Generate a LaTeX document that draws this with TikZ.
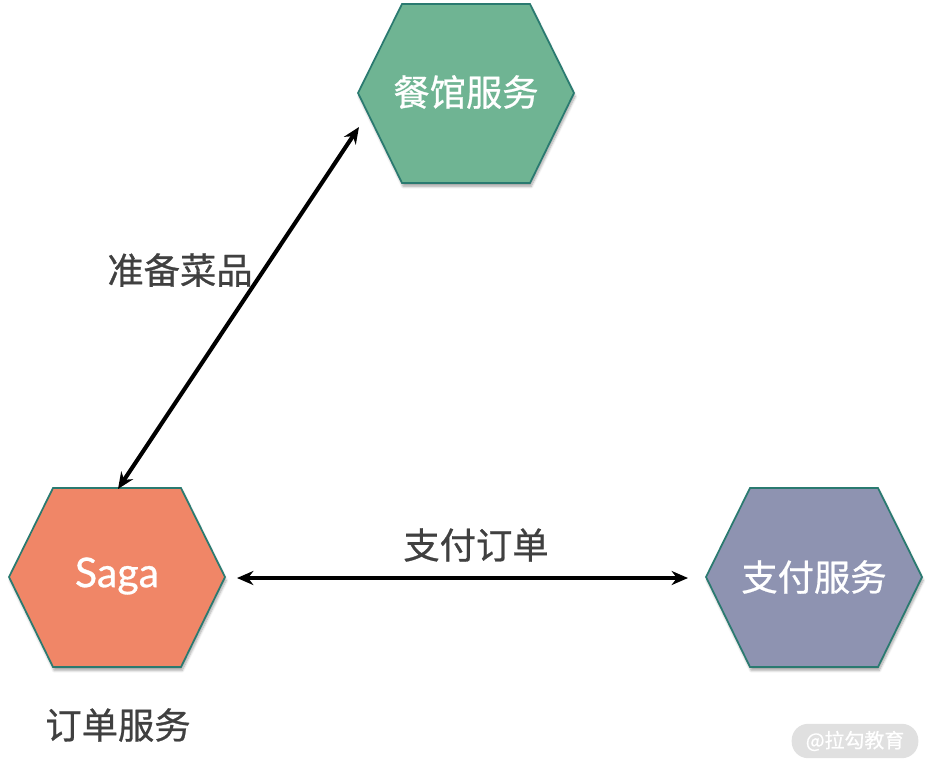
\documentclass[tikz,border=0pt]{standalone}
\usepackage{fontspec}
\setmainfont{Lato}[FakeBold=0.7]
\newfontfamily\cjk{Noto Sans CJK SC}[FakeBold=0.7]
\usetikzlibrary{arrows.meta,shadows.blur}

\definecolor{hexline}{HTML}{2A7A70}
\definecolor{restgreen}{HTML}{6FB493}
\definecolor{sagared}{HTML}{F08667}
\definecolor{payslate}{HTML}{8E93B1}
\definecolor{textgray}{HTML}{404040}
\definecolor{markgray}{HTML}{E0E0E0}

\newcommand{\hexat}[3]{%
  \draw[hex,fill=#3] (#1-108,#2) -- (#1-64,#2-89) -- (#1+64,#2-89) -- (#1+108,#2)
    -- (#1+64,#2+90) -- (#1-64,#2+90) -- cycle;}

\begin{document}
\begin{tikzpicture}[x=0.03cm, y=-0.03cm,
  hex/.style={draw=hexline, line width=1.5pt,
    blur shadow={shadow xshift=1pt, shadow yshift=-3pt, shadow blur steps=6, shadow opacity=35}},
  hextext/.style={text=white, font=\cjk\fontsize{31}{31}\selectfont},
  lbl/.style={text=textgray, font=\cjk\fontsize{31}{31}\selectfont},
  conn/.style={{Stealth[length=14pt,width=12pt]}-{Stealth[length=14pt,width=12pt]}, line width=3.5pt}]
\useasboundingbox (0,0) rectangle (932,772);

\hexat{466}{93}{restgreen}
\hexat{117}{577}{sagared}
\hexat{814}{577}{payslate}

\node[hextext] (rest) at (466,92) {餐馆服务};
\node[text=white, font=\fontsize{35}{35}\selectfont] (saga) at (117,576) {Saga};
\node[hextext] (pay) at (814,577) {支付服务};

\node[lbl] (prep) at (180,270) {准备菜品};
\node[lbl] (payorder) at (476,545) {支付订单};
\node[lbl] (order) at (118,725) {订单服务};

\coordinate (sagaN) at (118,489);
\coordinate (restSW) at (359,127);
\coordinate (sagaE) at (237,578);
\coordinate (payW) at (688,578);

\draw[conn] (sagaN) -- (restSW);
\draw[conn] (sagaE) -- (payW);

\node[fill=markgray, rounded corners=14pt, text=white,
  font=\cjk\fontsize{17}{17}\selectfont, inner xsep=12pt, inner ysep=6pt] (mark) at (855,741) {@拉勾教育};
\end{tikzpicture}
\end{document}
